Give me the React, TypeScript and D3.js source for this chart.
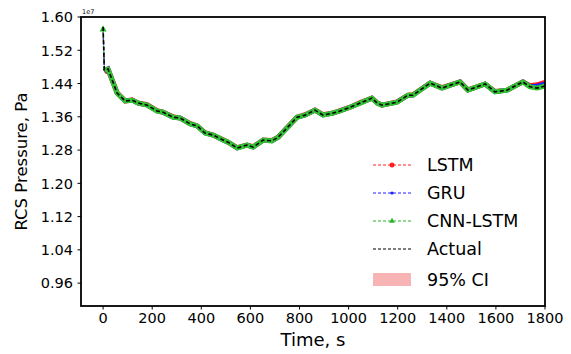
import * as d3 from "d3";

// time (s) and RCS pressure (x1e7 Pa)
const times = [0, 5, 20, 57, 90, 118, 143, 179, 220, 244, 285, 314, 354, 383, 415, 448, 489, 509, 546, 586, 611, 652, 688, 713, 749, 790, 823, 863, 896, 937, 965, 1006, 1047, 1095, 1116, 1136, 1197, 1242, 1262, 1332, 1380, 1454, 1486, 1556, 1596, 1645, 1710, 1739, 1767, 1800];
const actual = [1.576, 1.473, 1.475, 1.417, 1.398, 1.400, 1.393, 1.388, 1.374, 1.371, 1.359, 1.357, 1.343, 1.338, 1.321, 1.316, 1.304, 1.299, 1.285, 1.292, 1.287, 1.304, 1.302, 1.311, 1.333, 1.359, 1.364, 1.376, 1.364, 1.369, 1.374, 1.383, 1.393, 1.405, 1.393, 1.388, 1.395, 1.412, 1.412, 1.441, 1.429, 1.444, 1.424, 1.439, 1.420, 1.424, 1.444, 1.432, 1.429, 1.434];
const lstm = [1.576, 1.468, 1.474, 1.418, 1.398, 1.401, 1.393, 1.389, 1.375, 1.371, 1.360, 1.357, 1.344, 1.338, 1.322, 1.316, 1.305, 1.299, 1.286, 1.292, 1.288, 1.304, 1.303, 1.311, 1.334, 1.359, 1.365, 1.376, 1.365, 1.369, 1.375, 1.383, 1.394, 1.405, 1.394, 1.388, 1.396, 1.412, 1.413, 1.441, 1.430, 1.444, 1.425, 1.439, 1.421, 1.424, 1.444, 1.435, 1.437, 1.443];
const gru = [1.576, 1.470, 1.475, 1.417, 1.398, 1.400, 1.393, 1.388, 1.374, 1.371, 1.359, 1.357, 1.343, 1.338, 1.321, 1.316, 1.304, 1.299, 1.285, 1.292, 1.287, 1.304, 1.302, 1.311, 1.333, 1.359, 1.364, 1.376, 1.364, 1.369, 1.374, 1.383, 1.393, 1.405, 1.393, 1.388, 1.395, 1.412, 1.412, 1.441, 1.429, 1.444, 1.424, 1.439, 1.420, 1.424, 1.444, 1.433, 1.434, 1.439];
const cnnLstm = [1.575, 1.472, 1.475, 1.417, 1.398, 1.400, 1.393, 1.388, 1.374, 1.371, 1.359, 1.357, 1.343, 1.338, 1.321, 1.316, 1.304, 1.299, 1.285, 1.292, 1.287, 1.304, 1.302, 1.311, 1.333, 1.359, 1.364, 1.376, 1.364, 1.369, 1.374, 1.383, 1.393, 1.405, 1.393, 1.388, 1.395, 1.412, 1.412, 1.441, 1.429, 1.444, 1.424, 1.439, 1.420, 1.424, 1.444, 1.432, 1.429, 1.434];
const ciHalf = 0.003;

const xTicks = [0, 200, 400, 600, 800, 1000, 1200, 1400, 1600, 1800];
const yTicks = [0.96, 1.04, 1.12, 1.20, 1.28, 1.36, 1.44, 1.52, 1.60];

const W = 571, H = 354;
const ML = 81, MR = 26, MT = 17, MB = 48;
const FONT = "DejaVu Sans, sans-serif";

export default function App() {
  const x = d3.scaleLinear().domain([-90, 1800]).range([ML, W - MR]);
  const y = d3.scaleLinear().domain([0.905, 1.60]).range([H - MB, MT]);

  // dense marker band is drawn from the second point on; the initial drop is a thin segment
  const pts = (vals: number[], from = 0) =>
    times.map((t, i) => [t, vals[i]] as [number, number]).slice(from);
  const line = d3.line<[number, number]>().x(d => x(d[0])).y(d => y(d[1]));
  const band = d3.area<number>()
    .x((_, i) => x(times[i + 1]))
    .y0(d => y(d - ciHalf))
    .y1(d => y(d + ciHalf));

  const legend = [
    { label: "LSTM", color: "#ff2020", marker: "circle" },
    { label: "GRU", color: "#2020ff", marker: "dot" },
    { label: "CNN-LSTM", color: "#2ab52a", marker: "tri" },
    { label: "Actual", color: "#000", marker: "none" },
  ];

  return (
    <svg width={W} height={H} style={{ position: "absolute", left: 0, top: 0, background: "#fff" }} fontFamily={FONT}>
      {/* CI band */}
      <path d={band(lstm.slice(1)) ?? ""} fill="#f4a0a0" opacity={0.8} />
      {/* initial drop, thin */}
      <path d={line(pts(lstm).slice(0, 2)) ?? ""} fill="none" stroke="#ff2020" strokeWidth={1.2} strokeDasharray="3,2" />
      <path d={line(pts(gru).slice(0, 2)) ?? ""} fill="none" stroke="#2020ff" strokeWidth={1.2} strokeDasharray="3,2" />
      <path d={line(pts(cnnLstm).slice(0, 2)) ?? ""} fill="none" stroke="#2ab52a" strokeWidth={1.2} strokeDasharray="3,2" strokeDashoffset={2} />
      {/* predictions, marker bands */}
      <path d={line(pts(lstm, 1)) ?? ""} fill="none" stroke="#ff2020" strokeWidth={5} />
      <path d={line(pts(gru, 1)) ?? ""} fill="none" stroke="#2020ff" strokeWidth={4.5} />
      <path d={line(pts(cnnLstm, 1)) ?? ""} fill="none" stroke="#33c233" strokeWidth={5} strokeLinejoin="round" />
      <path d={d3.symbol(d3.symbolTriangle, 22)() ?? ""} transform={`translate(${x(times[0])},${y(cnnLstm[0]) + 2})`} fill="#2ab52a" />
      {/* actual */}
      <path d={line(pts(actual)) ?? ""} fill="none" stroke="#000" strokeWidth={1.6} strokeDasharray="4,2.5" />

      {/* frame */}
      <rect x={ML} y={MT} width={W - MR - ML} height={H - MB - MT} fill="none" stroke="#000" strokeWidth={1.8} />

      {/* x axis */}
      {xTicks.map(t => (
        <g key={t} transform={`translate(${x(t)},${H - MB})`}>
          <line y2={3.5} stroke="#000" strokeWidth={1} />
          <text y={17} textAnchor="middle" fontSize={14.5} fill="#000">{t}</text>
        </g>
      ))}
      <text x={313} y={346} textAnchor="middle" fontSize={18} fill="#000">Time, s</text>

      {/* y axis */}
      {yTicks.map(v => (
        <g key={v} transform={`translate(${ML},${y(v)})`}>
          <line x2={-3.5} stroke="#000" strokeWidth={1} />
          <text x={-8} dy="0.36em" textAnchor="end" fontSize={14.5} fill="#000">{v.toFixed(2)}</text>
        </g>
      ))}
      <text x={82} y={14} fontSize={6.5} fill="#000">1e7</text>
      <text transform={`translate(27,${(MT + H - MB) / 2}) rotate(-90)`} textAnchor="middle" fontSize={16.5} fill="#000">RCS Pressure, Pa</text>

      {/* legend */}
      {legend.map((e, i) => {
        const ly = 165 + i * 28;
        return (
          <g key={e.label} transform={`translate(373,${ly})`}>
            <line x2={38} stroke={e.color} strokeWidth={1.2} strokeDasharray="3,2" />
            {e.marker === "circle" && <circle cx={19} r={2.5} fill={e.color} />}
            {e.marker === "dot" && <circle cx={19} r={1.6} fill={e.color} />}
            {e.marker === "tri" && <path d={d3.symbol(d3.symbolTriangle, 14)() ?? ""} transform="translate(19,0)" fill={e.color} />}
            <text x={54} dy="0.36em" fontSize={17.5} fill="#000">{e.label}</text>
          </g>
        );
      })}
      <rect x={373} y={273} width={38} height={13} fill="#f8b4b4" />
      <text x={427} y={279.5} dy="0.36em" fontSize={17.5} fill="#000">95% CI</text>
    </svg>
  );
}
